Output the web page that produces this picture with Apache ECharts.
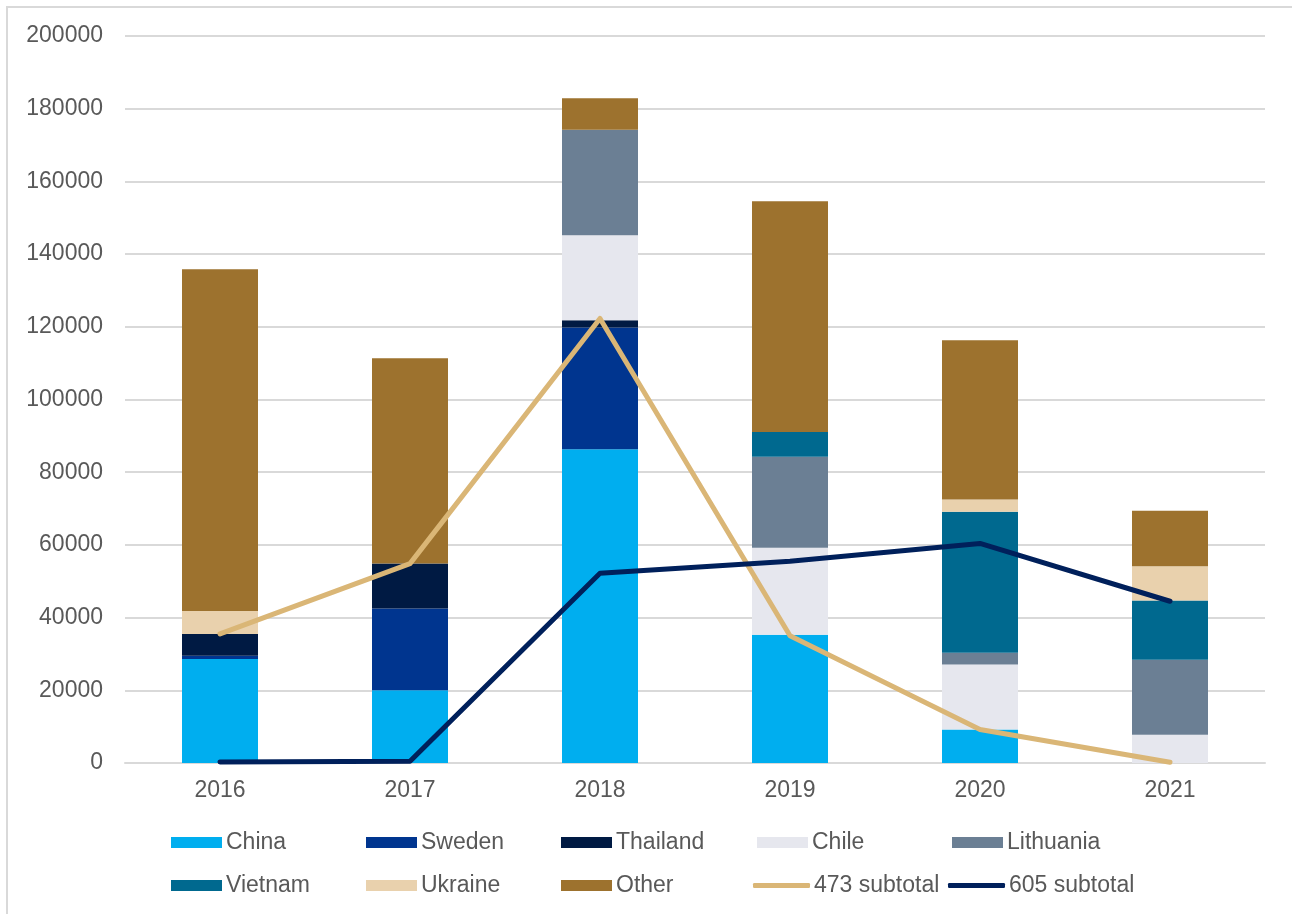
<!DOCTYPE html>
<html>
<head>
<meta charset="utf-8">
<script src="https://cdn.jsdelivr.net/npm/echarts@6/dist/echarts.min.js"></script>
<style>
html,body{margin:0;padding:0;background:#fff;}
#chart{width:1292px;height:914px;}
</style>
</head>
<body>
<div id="chart"></div>
<script>
var years = ['2016', '2017', '2018', '2019', '2020', '2021'];
var china = [28600, 20000, 86300, 35300, 9200, 0];
var sweden = [900, 22500, 33500, 0, 0, 0];
var thailand = [6000, 12350, 2000, 0, 0, 0];
var chile = [0, 0, 23400, 23950, 17900, 7800];
var lithuania = [0, 0, 29000, 25000, 3200, 20600];
var vietnam = [0, 0, 0, 6800, 38800, 16300];
var ukraine = [6300, 0, 0, 0, 3400, 9400];
var other = [94000, 56500, 8700, 63500, 43800, 15300];
var subtotal473 = [35500, 54850, 122300, 35000, 9200, 200];
var subtotal605 = [300, 500, 52200, 55500, 60400, 44500];

var FONT = "'Liberation Sans', Arial, sans-serif";
var TXT = '#595959';

var barDefs = [
  ['China', china, '#00AEEF'],
  ['Sweden', sweden, '#00358F'],
  ['Thailand', thailand, '#001A43'],
  ['Chile', chile, '#E6E7EE'],
  ['Lithuania', lithuania, '#6B7F94'],
  ['Vietnam', vietnam, '#00698F'],
  ['Ukraine', ukraine, '#E9D1AD'],
  ['Other', other, '#9D722E']
];
var lineDefs = [
  ['473 subtotal', subtotal473, '#DAB676'],
  ['605 subtotal', subtotal605, '#00205B']
];

var series = [];
barDefs.forEach(function (d) {
  series.push({
    name: d[0], type: 'bar', stack: 'total', data: d[1],
    barWidth: '40%', itemStyle: { color: d[2] }
  });
});
lineDefs.forEach(function (d) {
  series.push({
    name: d[0], type: 'line', data: d[1], symbol: 'none',
    lineStyle: { color: d[2], width: 5, cap: 'round', join: 'round' },
    itemStyle: { color: d[2] }, z: 5
  });
});

var colX = [171, 366, 561, 757, 952];
var rowY = [831, 874];
var legendOrder = ['China', 'Sweden', 'Thailand', 'Chile', 'Lithuania',
                   'Vietnam', 'Ukraine', 'Other', '473 subtotal', '605 subtotal'];
var legends = legendOrder.map(function (name, i) {
  var isLine = name.indexOf('subtotal') >= 0;
  var col = i % 5, row = Math.floor(i / 5);
  var x = colX[col];
  if (name === '473 subtotal') x = 753;
  if (name === '605 subtotal') x = 948;
  return {
    data: [name],
    left: x, top: rowY[row], padding: 0,
    icon: isLine ? 'roundRect' : 'rect',
    itemWidth: isLine ? 57 : 51,
    itemHeight: isLine ? 5 : 11,
    selectedMode: false,
    textStyle: { fontFamily: FONT, fontSize: 23, color: TXT, padding: [0, 0, 0, -1] }
  };
});

var chart = echarts.init(document.getElementById('chart'), null, { renderer: 'canvas' });
chart.setOption({
  animation: false,
  backgroundColor: '#ffffff',
  graphic: [{
    type: 'polyline',
    shape: { points: [[7, 1000], [7, 7], [1400, 7]] },
    style: { fill: null, stroke: '#D9D9D9', lineWidth: 2 },
    z: -1
  }],
  grid: { left: 125, right: 27, top: 36, bottom: 151, containLabel: false },
  legend: legends,
  xAxis: {
    type: 'category', data: years,
    axisLine: { lineStyle: { color: '#D9D9D9', width: 2 } },
    axisTick: { show: false },
    axisLabel: { fontFamily: FONT, fontSize: 23, color: TXT, margin: 16 }
  },
  yAxis: {
    type: 'value', min: 0, max: 200000, interval: 20000,
    axisLine: { show: false }, axisTick: { show: false },
    splitLine: { lineStyle: { color: '#D9D9D9', width: 2 } },
    axisLabel: {
      fontFamily: FONT, fontSize: 23, color: TXT, margin: 22,
      formatter: function (v) { return String(v); }
    }
  },
  series: series
});
</script>
</body>
</html>
